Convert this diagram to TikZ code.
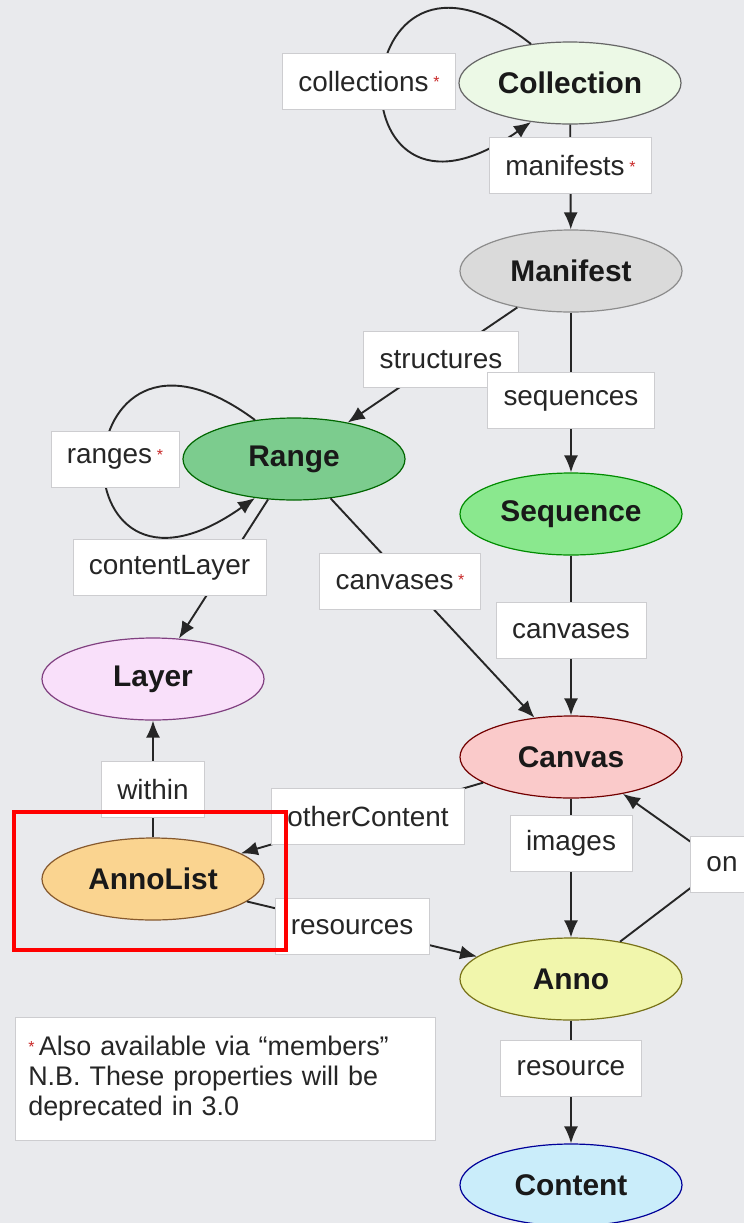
\documentclass[tikz,border=0pt]{standalone}
\usepackage{fontspec}
\setmainfont{Liberation Sans}
\usepackage{xcolor}
\usetikzlibrary{shapes.geometric, arrows.meta}
\definecolor{bgGray}{RGB}{233, 234, 237}
\definecolor{boxLine}{RGB}{205, 205, 208}
\definecolor{starRed}{RGB}{200, 40, 40}
\definecolor{collFill}{RGB}{236, 249, 230}
\definecolor{manFill}{RGB}{218, 218, 218}
\definecolor{rangeFill}{RGB}{124, 204, 142}
\definecolor{seqFill}{RGB}{138, 232, 142}
\definecolor{layerFill}{RGB}{249, 224, 250}
\definecolor{canvasFill}{RGB}{250, 202, 202}
\definecolor{alistFill}{RGB}{250, 212, 144}
\definecolor{annoFill}{RGB}{241, 246, 172}
\definecolor{contentFill}{RGB}{202, 237, 250}
\newcommand{\redstar}{\,\textcolor{starRed}{\fontsize{16}{16}\selectfont\raisebox{0.2em}{*}}}

\begin{document}
\begin{tikzpicture}[x=1bp, y=-1bp,
    obj/.style={ellipse, draw, line width=1.2bp, minimum width=222bp, minimum height=82bp,
        inner sep=0pt, font=\fontsize{30}{33}\selectfont\bfseries, text=black!90},
    lbl/.style={fill=white, draw=boxLine, line width=0.6bp, inner xsep=16bp, inner ysep=0pt,
        minimum height=56bp, font=\fontsize{28}{30}\selectfont, text=black!85},
    link/.style={draw=black!85, line width=1.9bp, -{Latex[length=17bp, width=14bp]}}]

    % background and page size
    \fill[bgGray] (0,0) rectangle (744,1223);
    \useasboundingbox (0,0) rectangle (744,1223);

    % classes
    \node[obj, fill=collFill, draw=black!60] (coll) at (570,83) {Collection};
    \node[obj, fill=manFill, draw=black!45] (man) at (571,271) {Manifest};
    \node[obj, fill=rangeFill, draw=green!40!black] (range) at (294,459) {Range};
    \node[obj, fill=seqFill, draw=green!55!black] (seq) at (571,514) {Sequence};
    \node[obj, fill=layerFill, draw=violet!50!gray] (layer) at (153,679) {Layer};
    \node[obj, fill=canvasFill, draw=red!45!black] (canvas) at (571,757) {Canvas};
    \node[obj, fill=alistFill, draw=brown!70!black] (alist) at (153,879) {AnnoList};
    \node[obj, fill=annoFill, draw=olive!80!black] (anno) at (571,979) {Anno};
    \node[obj, fill=contentFill, draw=blue!60!black] (content) at (571,1185) {Content};
    \coordinate (onbend) at (722,864);

    % self loops
    \draw[link] (coll.135) .. controls +(-190,-150) and +(-205,145) .. (coll.225)
        node[lbl, pos=0.5, xshift=-14] {collections\redstar};
    \draw[link] (range.135) .. controls +(-195,-145) and +(-205,145) .. (range.225)
        node[lbl, pos=0.5, xshift=10] {ranges\redstar};

    % properties
    \draw[link] (coll) -- (man) node[lbl, pos=0.39] {manifests\redstar};
    \draw[link] (man) -- (range) node[lbl, pos=0.45] {structures};
    \draw[link] (man) -- (seq) node[lbl, pos=0.55] {sequences};
    \draw[link] (range) -- (layer) node[lbl, pos=0.49, xshift=-55] {contentLayer};
    \draw[link] (range) -- (canvas) node[lbl, pos=0.38, xshift=-8] {canvases\redstar};
    \draw[link] (seq) -- (canvas) node[lbl, pos=0.47] {canvases};
    \draw[link] (alist) -- (layer) node[lbl, pos=0.41] {within};
    \draw[link] (canvas) -- (alist) node[lbl, pos=0.475] {otherContent};
    \draw[link] (canvas) -- (anno) node[lbl, pos=0.32] {images};
    \draw[link] (anno) -- (onbend) node[lbl] {on} -- (canvas);
    \draw[link] (alist) -- (anno) node[lbl, pos=0.457] {resources};
    \draw[link] (anno) -- (content) node[lbl, pos=0.39] {resource};

    % footnote
    \node[fill=white, draw=boxLine, line width=0.6bp, anchor=north west, inner xsep=13bp,
        text width=394bp, minimum height=123bp, align=left,
        font=\fontsize{27}{30}\selectfont, text=black!85] (note) at (15,1017)
        {\textcolor{starRed}{\fontsize{16}{16}\selectfont\raisebox{0.2em}{*}}\,Also available via “members”\\
         N.B. These properties will be\\
         deprecated in 3.0};

    % highlight
    \draw[red, line width=3.5bp] (14,812) rectangle (286,950);
\end{tikzpicture}
\end{document}
